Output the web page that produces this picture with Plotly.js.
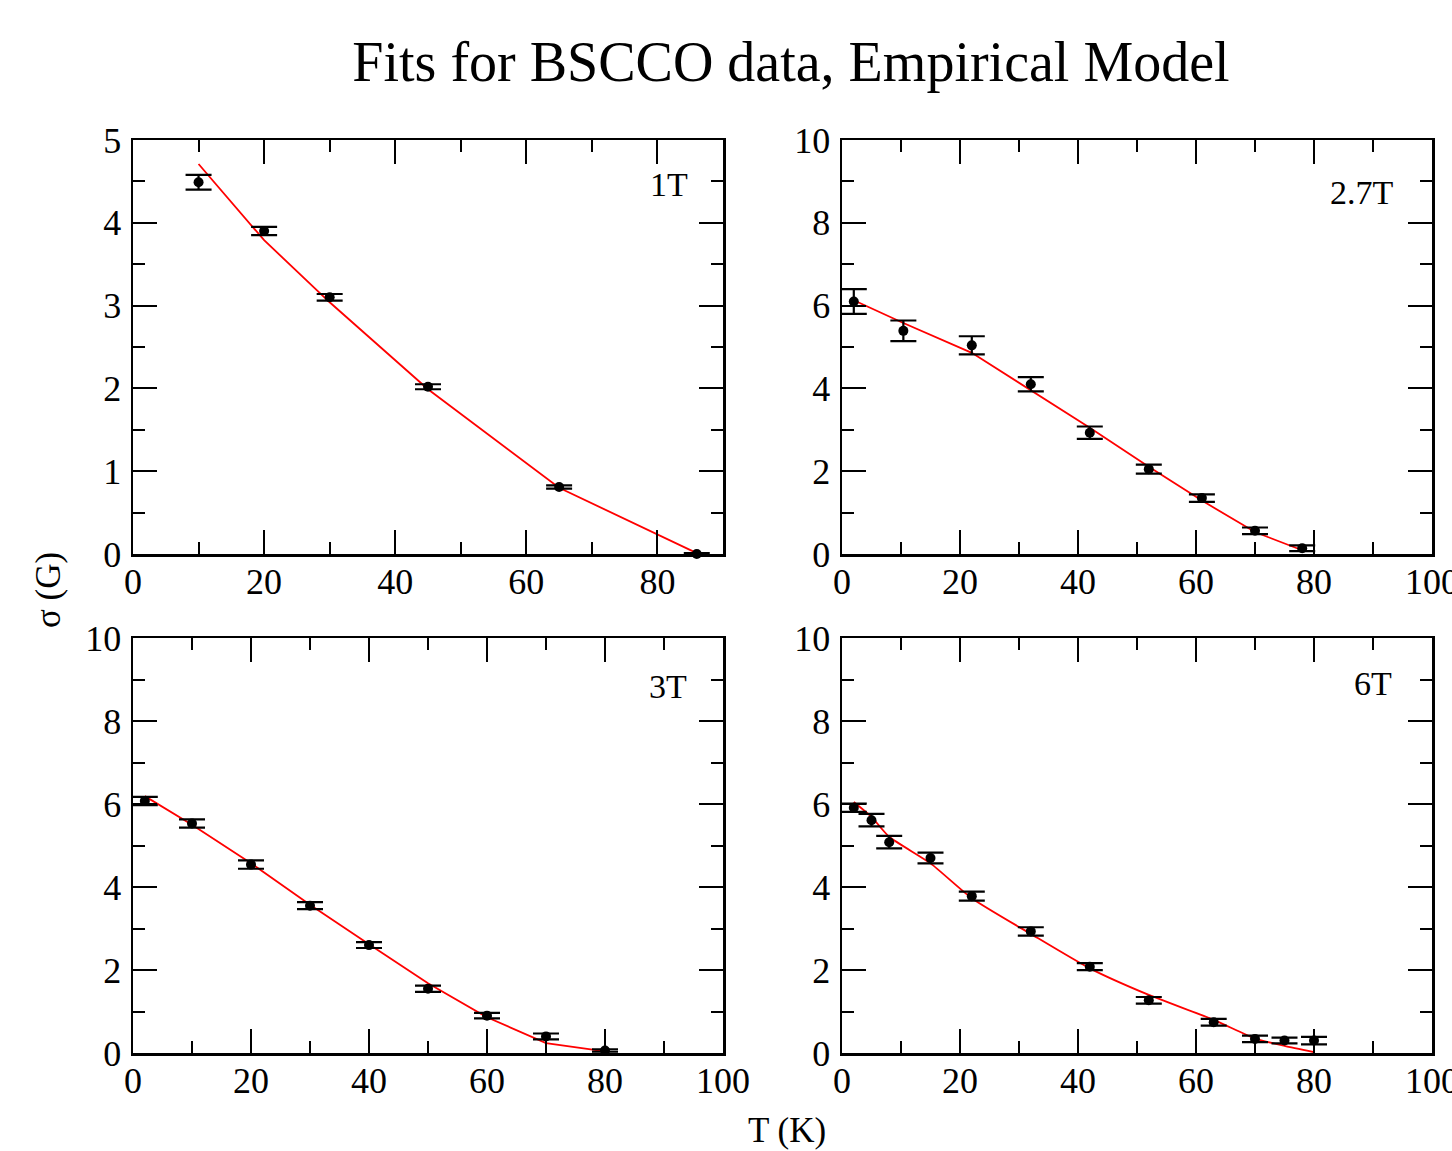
<!DOCTYPE html>
<html>
<head>
<meta charset="utf-8">
<script src="https://cdn.plot.ly/plotly-3.0.1.min.js"></script>
<style>html,body{margin:0;padding:0;background:#fff;}#chart{width:1452px;height:1151px;}</style>
</head>
<body>
<div id="chart"></div>
<script>
// ---- Data ----
const titleText = "Fits for BSCCO data, Empirical Model";
const panelLabels = ["1T", "2.7T", "3T", "6T"];

const t1T = [10, 20, 30, 45, 65, 86];
const s1T = [4.49, 3.90, 3.10, 2.02, 0.81, 0.00];
const e1T = [0.09, 0.05, 0.04, 0.03, 0.02, 0.01];
const fit1T = [4.71, 3.79, 3.04, 1.99, 0.80, 0.01];

const t27T = [2, 10.4, 22, 32, 42, 52, 61, 70, 78];
const s27T = [6.10, 5.39, 5.04, 4.10, 2.93, 2.05, 1.35, 0.56, 0.14];
const e27T = [0.30, 0.25, 0.22, 0.17, 0.15, 0.11, 0.09, 0.08, 0.07];
const fit27T = [6.13, 5.58, 4.86, 3.96, 3.05, 2.11, 1.29, 0.53, 0.09];

const t3T = [2, 10, 20, 30, 40, 50, 60, 70, 80];
const s3T = [6.07, 5.53, 4.54, 3.55, 2.60, 1.55, 0.90, 0.40, 0.06];
const e3T = [0.10, 0.10, 0.10, 0.085, 0.07, 0.075, 0.065, 0.07, 0.03];
const fit3T = [6.19, 5.50, 4.57, 3.57, 2.62, 1.68, 0.86, 0.24, 0.04];

const t6T = [2, 5, 8, 15, 22, 32, 42, 52, 63, 70, 75, 80];
const s6T = [5.91, 5.61, 5.08, 4.70, 3.78, 2.93, 2.08, 1.27, 0.74, 0.34, 0.30, 0.30];
const e6T = [0.10, 0.15, 0.15, 0.13, 0.11, 0.10, 0.085, 0.08, 0.08, 0.08, 0.07, 0.09];
const fit6T = [6.05, 5.69, 5.21, 4.57, 3.73, 2.87, 2.04, 1.40, 0.80, 0.35, 0.17, 0.02];

const xTitle = "T (K)";
const yTitle = "σ (G)";

// ---- Build traces ----
const FONT = '"Liberation Serif", "Times New Roman", Times, serif';
function dataTrace(x, y, e, xa, ya) {
  return {
    x: x, y: y, xaxis: xa, yaxis: ya, type: 'scatter', mode: 'markers',
    marker: {color: '#000', size: 10},
    error_y: {type: 'data', array: e, visible: true, color: '#000', thickness: 2.2, width: 13},
    cliponaxis: false, showlegend: false, hoverinfo: 'x+y'
  };
}
function fitTrace(x, y, xa, ya, shape) {
  return {
    x: x, y: y, xaxis: xa, yaxis: ya, type: 'scatter', mode: 'lines',
    line: {color: '#ff0000', width: 1.8, shape: shape || 'linear', smoothing: 0.6},
    cliponaxis: false, showlegend: false, hoverinfo: 'skip'
  };
}

const traces = [
  fitTrace(t1T, fit1T, 'x', 'y'),
  dataTrace(t1T, s1T, e1T, 'x', 'y'),
  fitTrace(t27T, fit27T, 'x2', 'y2'),
  dataTrace(t27T, s27T, e27T, 'x2', 'y2'),
  fitTrace(t3T, fit3T, 'x3', 'y3'),
  dataTrace(t3T, s3T, e3T, 'x3', 'y3'),
  fitTrace(t6T, fit6T, 'x4', 'y4', 'spline'),
  dataTrace(t6T, s6T, e6T, 'x4', 'y4')
];

// ---- Layout ----
const W = 1452, H = 1151;
const px = v => v / W;
const py = v => 1 - v / H;

function xAxis(domain, range, anchor) {
  return {
    domain: domain, range: range, anchor: anchor,
    dtick: 20, tick0: 0, ticks: 'inside', ticklen: 24, tickwidth: 2, tickcolor: '#000',
    minor: {dtick: 10, ticks: 'inside', ticklen: 12, tickwidth: 2, tickcolor: '#000'},
    showline: true, linecolor: '#000', linewidth: 2.5, mirror: 'ticks',
    showgrid: false, zeroline: false, ticklabelstandoff: -6, ticklabeloverflow: 'allow',
    tickfont: {family: FONT, size: 36, color: '#000'}
  };
}
function yAxis(domain, range, dt, mdt, anchor) {
  return {
    domain: domain, range: range, anchor: anchor,
    dtick: dt, tick0: 0, ticks: 'inside', ticklen: 24, tickwidth: 2, tickcolor: '#000',
    minor: {dtick: mdt, ticks: 'inside', ticklen: 12, tickwidth: 2, tickcolor: '#000'},
    showline: true, linecolor: '#000', linewidth: 2.5, mirror: 'ticks',
    showgrid: false, zeroline: false, ticklabelstandoff: 2,
    tickfont: {family: FONT, size: 36, color: '#000'}
  };
}

const xL = [px(133), px(723)], xR = [px(842), px(1432)];
const yT = [py(554), py(140)], yB = [py(1053), py(638)];

const layout = {
  width: W, height: H,
  margin: {l: 0, r: 0, t: 0, b: 0},
  paper_bgcolor: '#fff', plot_bgcolor: '#fff',
  font: {family: FONT, color: '#000'},
  showlegend: false,
  title: {text: titleText, font: {family: FONT, size: 56, color: '#000'},
          x: px(791), xanchor: 'center', xref: 'paper', y: py(61), yanchor: 'middle', yref: 'paper'},
  xaxis: xAxis(xL, [0, 90], 'y'),
  yaxis: yAxis(yT, [0, 5], 1, 0.5, 'x'),
  xaxis2: xAxis(xR, [0, 100], 'y2'),
  yaxis2: yAxis(yT, [0, 10], 2, 1, 'x2'),
  xaxis3: xAxis(xL, [0, 100], 'y3'),
  yaxis3: yAxis(yB, [0, 10], 2, 1, 'x3'),
  xaxis4: xAxis(xR, [0, 100], 'y4'),
  yaxis4: yAxis(yB, [0, 10], 2, 1, 'x4'),
  annotations: [
    {text: panelLabels[0], xref: 'paper', yref: 'paper', x: px(690), y: py(184), xanchor: 'right', yanchor: 'middle', showarrow: false, font: {family: FONT, size: 34}},
    {text: panelLabels[1], xref: 'paper', yref: 'paper', x: px(1396), y: py(192), xanchor: 'right', yanchor: 'middle', showarrow: false, font: {family: FONT, size: 34}},
    {text: panelLabels[2], xref: 'paper', yref: 'paper', x: px(689), y: py(686), xanchor: 'right', yanchor: 'middle', showarrow: false, font: {family: FONT, size: 34}},
    {text: panelLabels[3], xref: 'paper', yref: 'paper', x: px(1394), y: py(683), xanchor: 'right', yanchor: 'middle', showarrow: false, font: {family: FONT, size: 34}},
    {text: xTitle, xref: 'paper', yref: 'paper', x: px(787), y: py(1130), xanchor: 'center', yanchor: 'middle', showarrow: false, font: {family: FONT, size: 35}},
    {text: yTitle, xref: 'paper', yref: 'paper', x: px(48), y: py(590), xanchor: 'center', yanchor: 'middle', textangle: -90, showarrow: false, font: {family: FONT, size: 35}}
  ]
};

Plotly.newPlot('chart', traces, layout, {staticPlot: true, displayModeBar: false});
</script>
</body>
</html>
